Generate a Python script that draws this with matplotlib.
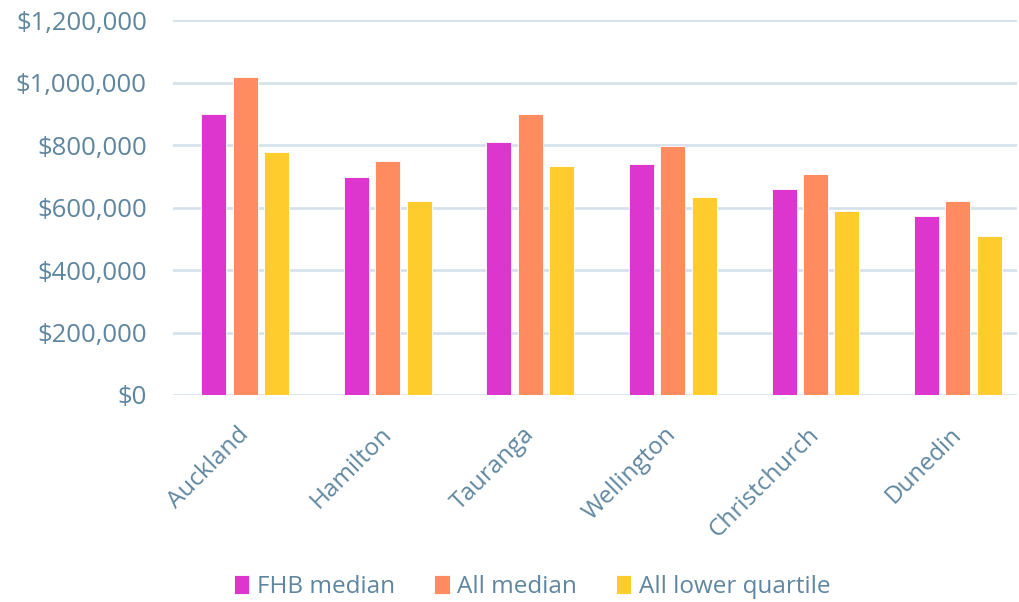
import matplotlib
matplotlib.use("Agg")
import matplotlib.pyplot as plt
import matplotlib.transforms as mtransforms
import numpy as np
from matplotlib.ticker import FuncFormatter

cities = ['Auckland', 'Hamilton', 'Tauranga', 'Wellington', 'Christchurch', 'Dunedin']
fhb_median = [900000, 698000, 812000, 739000, 661000, 574000]
all_median = [1020000, 750000, 901000, 799000, 707000, 620000]
all_lower_quartile = [780000, 621000, 735000, 634000, 588000, 510000]

series = ['FHB median', 'All median', 'All lower quartile']
colors = ['#DD36CF', '#FF8C61', '#FFCC2E']
text_col = '#5F86A0'

plt.rcParams['font.family'] = ['Open Sans', 'DejaVu Sans']

fig = plt.figure(figsize=(10.19, 6.02), dpi=100)
ax = fig.add_axes([0.170, 0.344, 0.828, 0.622])

x = np.arange(len(cities))
width = 0.175
step = 0.22
for i, (vals, name) in enumerate(zip([fhb_median, all_median, all_lower_quartile], series)):
    ax.bar(x + (i - 1) * step, vals, width, color=colors[i], label=name,
           edgecolor='white', linewidth=0.6, zorder=3)

ax.set_xlim(-0.505, 5.414)
ax.set_ylim(0, 1200000)
ax.set_yticks(np.arange(0, 1200001, 200000))
ax.yaxis.set_major_formatter(FuncFormatter(lambda v, p: '${:,.0f}'.format(v)))
ax.grid(axis='y', color='#D6E2EB', linewidth=2, zorder=0)
for s in ax.spines.values():
    s.set_visible(False)
ax.tick_params(axis='both', length=0, colors=text_col, labelsize=17.5)
ax.tick_params(axis='y', labelsize=18.5, pad=19)
ax.set_xticks(x)
ax.set_xticklabels(cities, rotation=45, ha='right', rotation_mode='anchor')
ax.tick_params(axis='x', pad=20)
# nudge the rotated city names a little to the left
shift = mtransforms.ScaledTranslation(-6 / 72, 0, fig.dpi_scale_trans)
for lbl in ax.get_xticklabels():
    lbl.set_transform(lbl.get_transform() + shift)

leg = fig.legend(loc='center', bbox_to_anchor=(0.522, 0.025), ncol=3, frameon=False,
                 fontsize=17.5, handlelength=0.65, handleheight=0.85, handletextpad=0.3,
                 columnspacing=1.6)
for t in leg.get_texts():
    t.set_color(text_col)

fig.savefig('out.png', dpi=100)
